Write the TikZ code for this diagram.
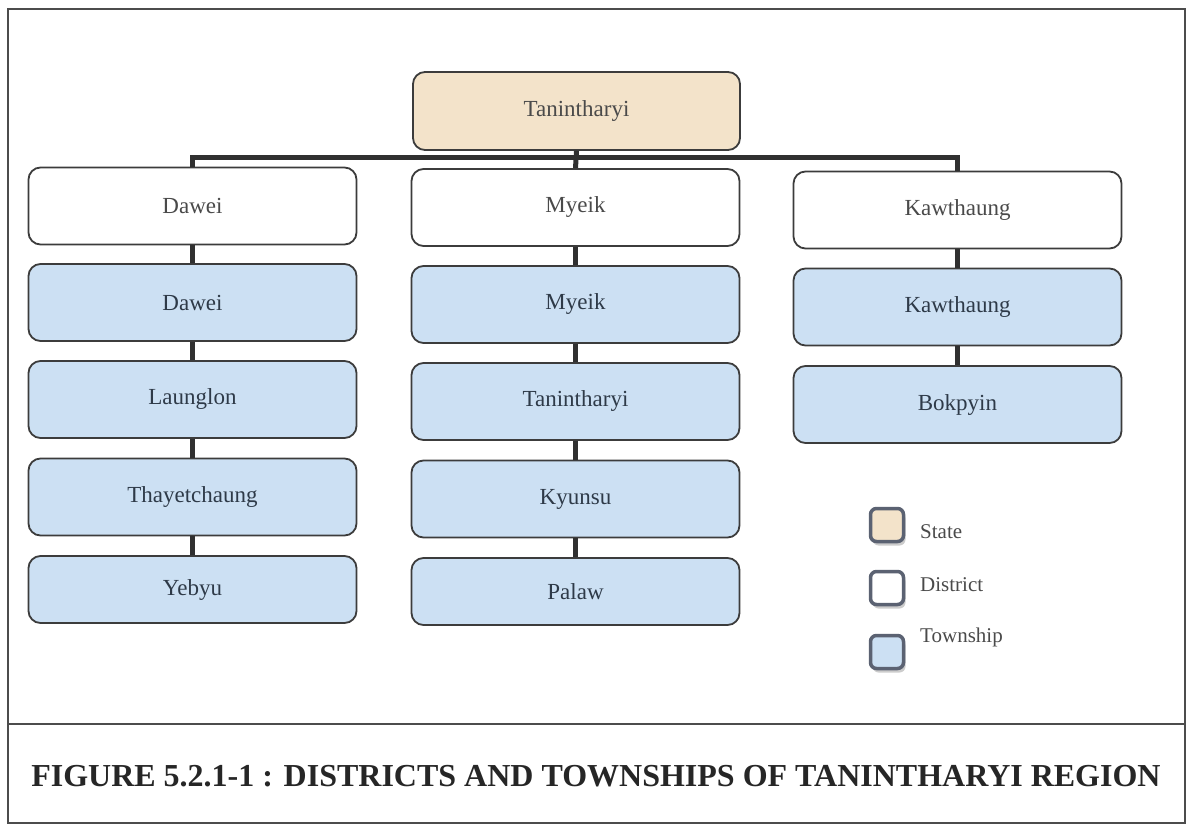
\documentclass[tikz,border=0pt]{standalone}
\usepackage{fontspec}
\setmainfont{Liberation Serif}
\usetikzlibrary{shadows,calc}
\definecolor{statefill}{HTML}{F3E3CA}
\definecolor{townfill}{HTML}{CCE0F3}
\definecolor{boxline}{HTML}{3C3C3C}
\definecolor{conncol}{HTML}{303030}
\definecolor{disttext}{HTML}{4A4A4A}
\definecolor{towntext}{HTML}{2E3A48}
\definecolor{legline}{HTML}{5B6272}
\tikzset{
  base/.style={rectangle, rounded corners=12pt, draw=boxline, line width=1.8pt,
    minimum width=328pt, inner sep=0pt, font=\fontsize{23}{27}\selectfont},
  statebox/.style={base, fill=statefill, minimum height=78pt, text=disttext},
  distbox/.style={base, fill=white, minimum height=77pt, text=disttext},
  townbox/.style={base, fill=townfill, minimum height=77pt, text=towntext},
  lastbox/.style={townbox, minimum height=67pt},
  conn/.style={draw=conncol, line width=5pt},
  legbox/.style={rectangle, rounded corners=6pt, draw=legline, line width=3.5pt,
    minimum size=33pt, inner sep=0pt, drop shadow={shadow xshift=2pt, shadow yshift=-4pt, opacity=0.4}},
  leglabel/.style={anchor=west, inner sep=0pt, text=disttext, font=\fontsize{21}{24}\selectfont},
}
\begin{document}
\begin{tikzpicture}[x=1pt,y=-1pt]
\useasboundingbox (0,0) rectangle (1190,826);
% frame
\draw[line width=1.3pt, draw=black!70] (8,9) rectangle (1185,823);
\draw[line width=1.3pt, draw=black!70] (8,724) -- (1185,724);

% state
\node[statebox, minimum width=327pt] (st) at (576.5,111) {Tanintharyi};

% districts
\node[distbox] (d1) at (192.5,206) {Dawei};
\node[distbox] (d2) at (575.5,207.5) {Myeik};
\node[distbox] (d3) at (957.5,210) {Kawthaung};

% townships column 1
\node[townbox] (t11) at (192.5,302.5) {Dawei};
\node[townbox] (t12) at (192.5,399.5) {Launglon};
\node[townbox] (t13) at (192.5,497) {Thayetchaung};
\node[lastbox] (t14) at (192.5,589.5) {Yebyu};

% townships column 2
\node[townbox] (t21) at (575.5,304.5) {Myeik};
\node[townbox] (t22) at (575.5,401.5) {Tanintharyi};
\node[townbox] (t23) at (575.5,499) {Kyunsu};
\node[lastbox] (t24) at (575.5,591.5) {Palaw};

% townships column 3
\node[townbox] (t31) at (957.5,307) {Kawthaung};
\node[townbox] (t32) at (957.5,404.5) {Bokpyin};

% connectors
\coordinate (bar) at ($(st.south)+(0,7)$);
\draw[conn] (st.south) -- (d2.north);
\draw[conn] (d1.north) -- (d1.north |- bar) -- (d3.north |- bar) -- (d3.north);
\draw[conn] (d1.south) -- (t11.north);
\draw[conn] (t11.south) -- (t12.north);
\draw[conn] (t12.south) -- (t13.north);
\draw[conn] (t13.south) -- (t14.north);
\draw[conn] (d2.south) -- (t21.north);
\draw[conn] (t21.south) -- (t22.north);
\draw[conn] (t22.south) -- (t23.north);
\draw[conn] (t23.south) -- (t24.north);
\draw[conn] (d3.south) -- (t31.north);
\draw[conn] (t31.south) -- (t32.north);

% legend
\node[legbox, fill=statefill] (lg1) at (887,525) {};
\node[legbox, fill=white] (lg2) at (887,588) {};
\node[legbox, fill=townfill] (lg3) at (887,652) {};
\node[leglabel] (ll1) at (920,532) {State};
\node[leglabel] (ll2) at (920,585) {District};
\node[leglabel] (ll3) at (920,637) {Township};

% caption
\node[font=\bfseries\fontsize{32}{36}\selectfont, text=black!85, inner sep=0pt] (cap) at (596,776)
  {FIGURE 5.2.1-1 : DISTRICTS AND TOWNSHIPS OF TANINTHARYI REGION};
\end{tikzpicture}
\end{document}
